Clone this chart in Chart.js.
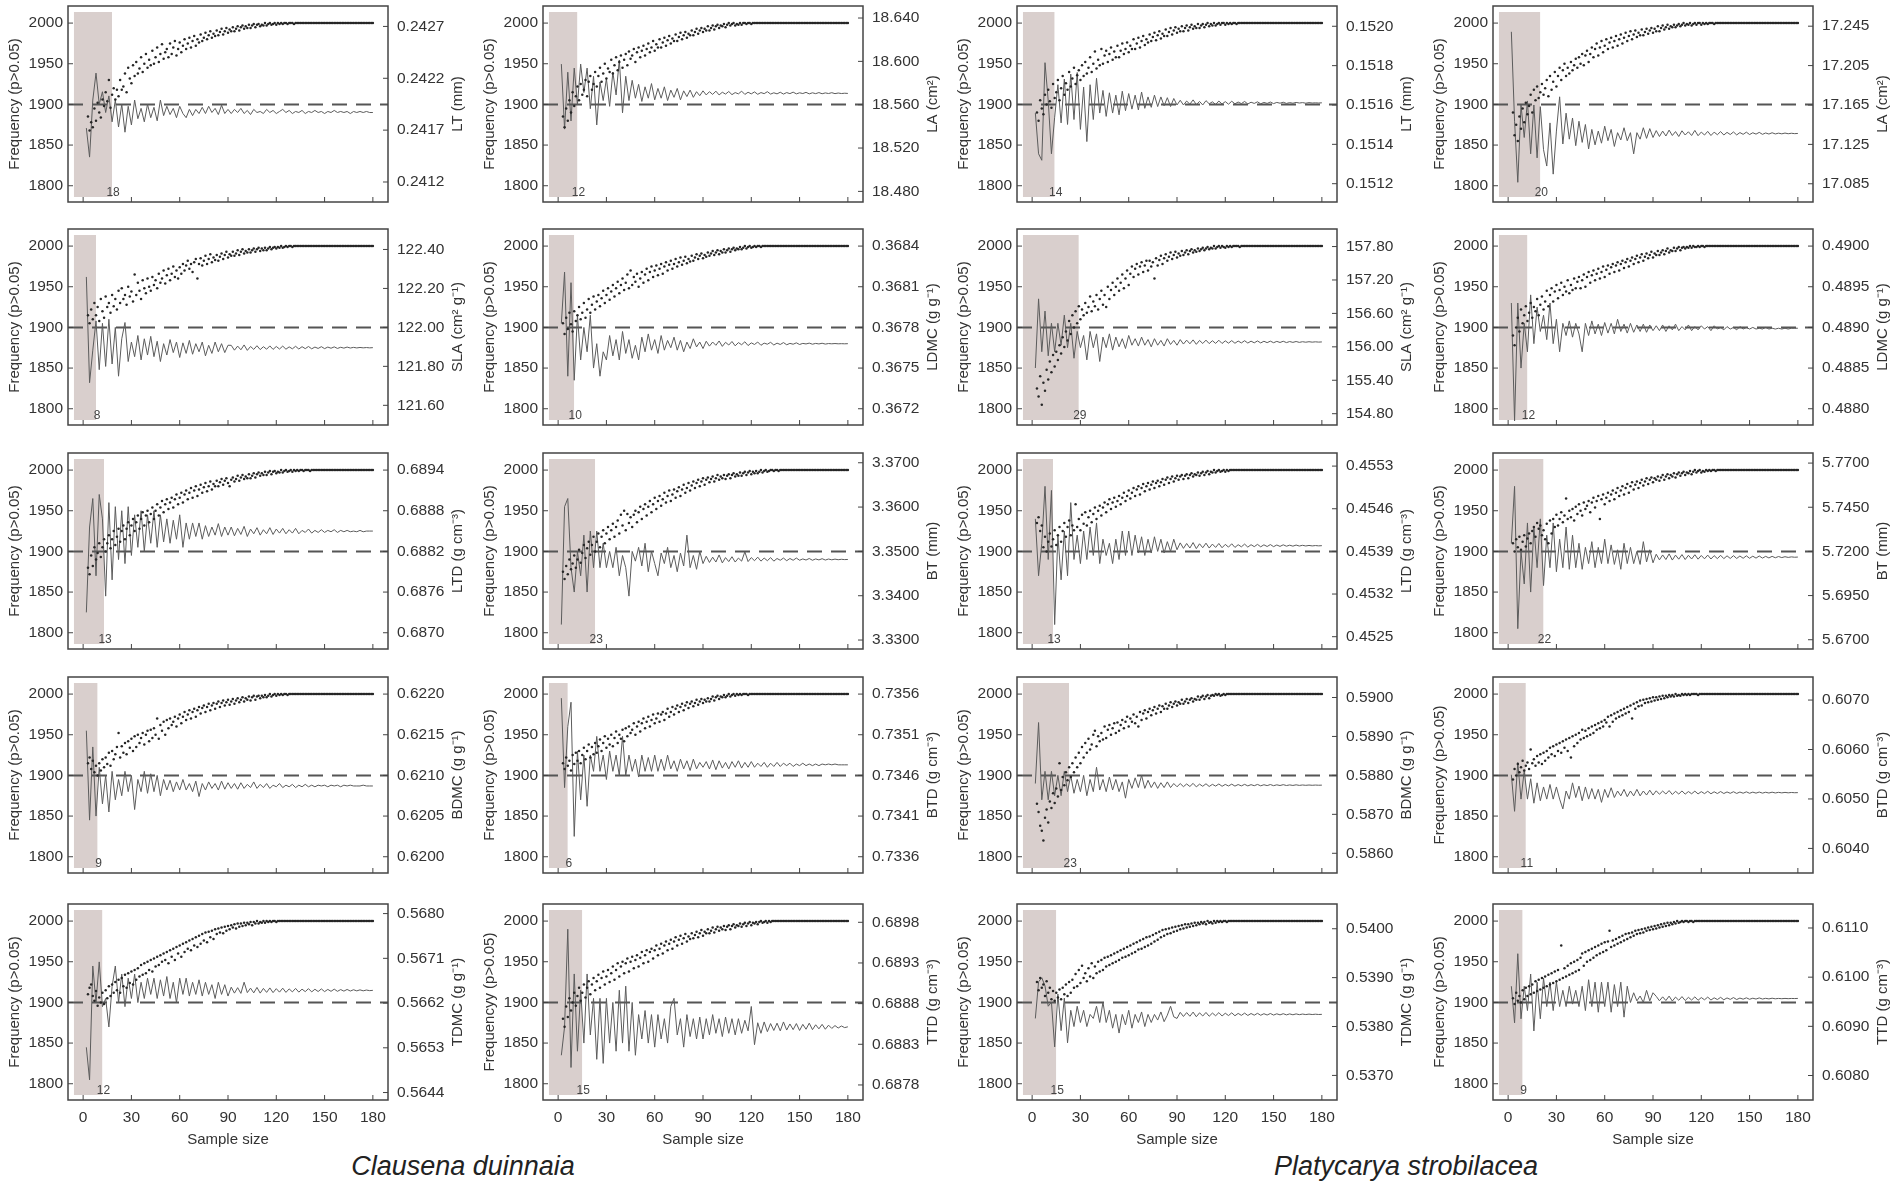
<!DOCTYPE html>
<html>
<head>
<meta charset="utf-8">
<script src="https://cdn.jsdelivr.net/npm/chart.js@4.4.1/dist/chart.umd.min.js"></script>
<style>
  body { margin: 0; background: #fff; width: 1901px; height: 1192px; position: relative; overflow: hidden; }
  canvas { position: absolute; }
  .species { position: absolute; top: 1151px; line-height: 32px; font: italic 27px "Liberation Sans", Arial, sans-serif; color: #222; transform: translateX(-50%); white-space: nowrap; }
</style>
</head>
<body>
<div class="species" style="left:463px">Clausena duinnaia</div>
<div class="species" style="left:1406px">Platycarya strobilacea</div>
<script>
// sample sizes (x values)
const lineSizes = [2,4,6,8,10,12,14,16,18,20,22,24,26,28,30,32,34,36,38,40,42,44,46,48,50,52,54,56,58,60,62,64,66,68,70,72,74,76,78,80,82,84,86,88,90,92,94,96,98,100,102,104,106,108,110,112,114,116,118,120,122,124,126,128,130,132,134,136,138,140,142,144,146,148,150,152,154,156,158,160,162,164,166,168,170,172,174,176,178,180];
const dotSizes = [3,4,5,6,7,8,9,10,11,12,13,14,15,16,17,18,19,20,21,22,23,24,25,26,27,28,29,30,31,32,33,34,35,36,37,38,39,40,41,42,43,44,45,46,47,48,49,50,51,52,53,54,55,56,57,58,59,60,61,62,63,64,65,66,67,68,69,70,71,72,73,74,75,76,77,78,79,80,81,82,83,84,85,86,87,88,89,90,91,92,93,94,95,96,97,98,99,100,101,102,103,104,105,106,107,108,109,110,111,112,113,114,115,116,117,118,119,120,121,122,123,124,125,126,127,128,129,130,131,132,133,134,135,136,137,138,139,140,141,142,143,144,145,146,147,148,149,150,151,152,153,154,155,156,157,158,159,160,161,162,163,164,165,166,167,168,169,170,171,172,173,174,175,176,177,178,179,180];

const xTickLabels = [0, 30, 60, 90, 120, 150, 180];
const freqTickLabels = [1800, 1850, 1900, 1950, 2000];

// panel order: row by row, Clausena (2 columns) then Platycarya (2 columns)
const traitTitles = [
  'LT (mm)', 'LA (cm²)', 'LT (mm)', 'LA (cm²)',
  'SLA (cm² g⁻¹)', 'LDMC (g g⁻¹)', 'SLA (cm² g⁻¹)', 'LDMC (g g⁻¹)',
  'LTD (g cm⁻³)', 'BT (mm)', 'LTD (g cm⁻³)', 'BT (mm)',
  'BDMC (g g⁻¹)', 'BTD (g cm⁻³)', 'BDMC (g g⁻¹)', 'BTD (g cm⁻³)',
  'TDMC (g g⁻¹)', 'TTD (g cm⁻³)', 'TDMC (g g⁻¹)', 'TTD (g cm⁻³)'
];
const freqTitles = traitTitles.map((t, i) => (i === 15 || i === 17) ? 'Frequencyy (p>0.05)' : 'Frequency (p>0.05)');
const cutoffs = [18, 12, 14, 20, 8, 10, 29, 12, 13, 23, 13, 22, 9, 6, 23, 11, 12, 15, 15, 9];

const rightTicks = [
  ['0.2412','0.2417','0.2422','0.2427'], ['18.480','18.520','18.560','18.600','18.640'],
  ['0.1512','0.1514','0.1516','0.1518','0.1520'], ['17.085','17.125','17.165','17.205','17.245'],
  ['121.60','121.80','122.00','122.20','122.40'], ['0.3672','0.3675','0.3678','0.3681','0.3684'],
  ['154.80','155.40','156.00','156.60','157.20','157.80'], ['0.4880','0.4885','0.4890','0.4895','0.4900'],
  ['0.6870','0.6876','0.6882','0.6888','0.6894'], ['3.3300','3.3400','3.3500','3.3600','3.3700'],
  ['0.4525','0.4532','0.4539','0.4546','0.4553'], ['5.6700','5.6950','5.7200','5.7450','5.7700'],
  ['0.6200','0.6205','0.6210','0.6215','0.6220'], ['0.7336','0.7341','0.7346','0.7351','0.7356'],
  ['0.5860','0.5870','0.5880','0.5890','0.5900'], ['0.6040','0.6050','0.6060','0.6070'],
  ['0.5644','0.5653','0.5662','0.5671','0.5680'], ['0.6878','0.6883','0.6888','0.6893','0.6898'],
  ['0.5370','0.5380','0.5390','0.5400'], ['0.6080','0.6090','0.6100','0.6110']
];
const rightRange = [
  [0.241007, 0.242897], [18.4702, 18.6511], [0.151107, 0.152103], [17.0665, 17.2655],
  [121.499, 122.505], [0.36708, 0.368526], [154.597, 158.115], [0.4878, 0.49021],
  [0.68676, 0.689652], [3.32798, 3.37220], [0.452298, 0.455515], [5.66475, 5.77571],
  [0.6198, 0.62221], [0.7334, 0.73581], [0.585494, 0.590526], [0.603503, 0.607466],
  [0.56425, 0.568193], [0.687615, 0.690025], [0.536497, 0.540506], [0.607502, 0.611488]
];

// ---- frequency of p>0.05 (dots), sample size 3..180 ----
const freq_cLT = [1885,1868,1878,1872,1895,1880,1902,1890,1884,1906,
1898,1915,1904,1930,1896,1912,1920,1906,1918,1910,
1930,1918,1922,1938,1915,1945,1932,1926,1948,1935,
1952,1938,1944,1958,1940,1950,1962,1945,1955,1948,
1966,1950,1958,1970,1952,1962,1974,1956,1964,1968,
1958,1975,1962,1970,1978,1960,1968,1976,1964,1972,
1980,1968,1975,1982,1970,1978,1984,1972,1980,1976,
1986,1978,1982,1988,1980,1985,1990,1982,1987,1984,
1991,1985,1989,1993,1986,1990,1994,1988,1992,1990,
1995,1990,1993,1996,1991,1995,1997,1993,1996,1994,
1998,1994,1997,1999,1995,1998,1999,1996,1998,1997,
2000,1997,1999,2000,1998,1999,2000,1998,2000,1999,
2000,1999,2000,2000,1999,2000,2000,2000,1999,2000,
2000,2000,2000,2000,2000,2000,2000,2000,2000,2000,2000,2000,2000,2000,2000,2000,2000,2000,2000,2000,
2000,2000,2000,2000,2000,2000,2000,2000,2000,2000,2000,2000,2000,2000,2000,2000,2000,2000,2000,2000,
2000,2000,2000,2000,2000,2000,2000,2000];
const freq_cLA = [1885,1872,1895,1880,1905,1890,1915,1898,1910,1922,
1905,1925,1912,1918,1930,1910,1928,1935,1918,1925,
1940,1922,1935,1945,1928,1938,1950,1932,1944,1940,
1955,1938,1948,1958,1942,1952,1960,1945,1955,1962,
1948,1965,1956,1960,1968,1952,1964,1970,1958,1966,
1972,1960,1968,1975,1964,1970,1978,1966,1974,1970,
1980,1970,1976,1982,1972,1979,1984,1975,1981,1978,
1986,1978,1983,1988,1980,1985,1989,1982,1987,1985,
1991,1985,1989,1993,1987,1991,1994,1989,1993,1991,
1996,1991,1994,1997,1992,1996,1998,1994,1997,1996,
1999,1995,1998,2000,1997,1999,2000,1997,1999,1998,
2000,1998,2000,2000,1999,2000,2000,1999,2000,2000,
2000,2000,2000,2000,2000,2000,2000,2000,2000,2000,2000,2000,2000,2000,2000,2000,2000,2000,2000,2000,
2000,2000,2000,2000,2000,2000,2000,2000,2000,2000,2000,2000,2000,2000,2000,2000,2000,2000,2000,2000,
2000,2000,2000,2000,2000,2000,2000,2000,2000,2000,2000,2000,2000,2000,2000,2000,2000,2000];
const freq_pLT = [1890,1880,1905,1895,1888,1912,1900,1918,1904,1896,
1925,1908,1915,1930,1905,1920,1935,1912,1926,1918,
1940,1922,1932,1945,1925,1936,1942,1930,1948,1935,
1952,1938,1945,1958,1940,1950,1965,1944,1955,1948,
1968,1950,1960,1966,1952,1962,1970,1955,1965,1958,
1972,1958,1966,1975,1962,1968,1976,1964,1972,1968,
1980,1968,1975,1982,1970,1978,1984,1973,1980,1976,
1986,1978,1983,1988,1979,1985,1990,1981,1987,1984,
1992,1984,1989,1994,1986,1991,1995,1988,1993,1990,
1996,1990,1994,1997,1991,1995,1998,1993,1996,1994,
1999,1994,1997,1999,1995,1998,2000,1996,1999,1997,
2000,1997,1999,2000,1998,2000,2000,1998,2000,1999,
2000,1999,2000,2000,1999,2000,2000,2000,2000,2000,
2000,2000,2000,2000,2000,2000,2000,2000,2000,2000,2000,2000,2000,2000,2000,2000,2000,2000,2000,2000,
2000,2000,2000,2000,2000,2000,2000,2000,2000,2000,2000,2000,2000,2000,2000,2000,2000,2000,2000,2000,
2000,2000,2000,2000,2000,2000,2000,2000];
const freq_pLA = [1890,1862,1875,1855,1885,1870,1895,1878,1902,1888,
1898,1912,1890,1918,1905,1922,1908,1915,1925,1912,
1920,1930,1910,1935,1918,1928,1940,1922,1935,1945,
1930,1942,1950,1935,1945,1938,1952,1942,1948,1956,
1945,1958,1950,1962,1948,1960,1966,1952,1962,1970,
1958,1968,1975,1960,1970,1978,1964,1972,1980,1968,
1976,1982,1970,1978,1984,1972,1980,1986,1975,1982,
1988,1978,1984,1990,1980,1986,1991,1983,1988,1985,
1992,1985,1989,1993,1987,1991,1994,1988,1993,1990,
1996,1990,1994,1997,1992,1995,1998,1993,1996,1995,
1998,1995,1997,1999,1996,1998,2000,1997,1999,1998,
2000,1997,1999,2000,1998,2000,2000,1998,2000,1999,
2000,1999,2000,2000,2000,1999,2000,2000,2000,2000,
2000,2000,2000,2000,2000,2000,2000,2000,2000,2000,2000,2000,2000,2000,2000,2000,2000,2000,2000,2000,
2000,2000,2000,2000,2000,2000,2000,2000,2000,2000,2000,2000,2000,2000,2000,2000,2000,2000,2000,2000,
2000,2000,2000,2000,2000,2000,2000,2000];
const freq_cSLA = [1915,1905,1922,1910,1930,1915,1925,1908,1935,1920,
1912,1938,1925,1930,1918,1940,1926,1935,1922,1945,
1930,1948,1935,1940,1928,1950,1938,1944,1932,1965,
1940,1955,1945,1935,1958,1948,1942,1960,1950,1945,
1962,1952,1958,1948,1966,1955,1960,1970,1954,1964,
1972,1958,1966,1975,1962,1970,1960,1974,1966,1978,
1970,1976,1982,1972,1978,1968,1980,1984,1960,1978,
1985,1976,1982,1988,1978,1984,1990,1980,1986,1983,
1989,1982,1987,1991,1984,1989,1993,1986,1990,1988,
1993,1988,1991,1995,1989,1993,1996,1991,1994,1992,
1996,1992,1995,1997,1993,1996,1998,1994,1997,1995,
1998,1995,1997,1999,1996,1998,1999,1997,1999,1998,
2000,1998,1999,2000,1999,2000,2000,1999,2000,2000,
2000,2000,2000,2000,2000,2000,2000,2000,2000,2000,2000,2000,2000,2000,2000,2000,2000,2000,2000,2000,
2000,2000,2000,2000,2000,2000,2000,2000,2000,2000,2000,2000,2000,2000,2000,2000,2000,2000,2000,2000,
2000,2000,2000,2000,2000,2000,2000,2000];
const freq_cLDMC = [1905,1892,1912,1898,1918,1904,1895,1920,1908,1915,
1925,1910,1918,1930,1912,1922,1935,1918,1928,1938,
1922,1932,1940,1926,1936,1945,1930,1940,1948,1934,
1944,1952,1938,1948,1956,1942,1952,1960,1946,1955,
1965,1948,1970,1952,1962,1956,1966,1950,1960,1968,
1955,1965,1972,1958,1968,1975,1962,1970,1976,1964,
1972,1978,1966,1975,1980,1970,1977,1982,1972,1978,
1984,1975,1980,1986,1977,1982,1987,1979,1984,1981,
1988,1982,1986,1990,1984,1988,1991,1985,1989,1987,
1992,1988,1991,1994,1989,1992,1995,1990,1994,1992,
1996,1992,1995,1997,1993,1996,1998,1995,1997,1996,
1999,1996,1998,2000,1997,1999,2000,1998,1999,2000,
1999,2000,2000,1999,2000,2000,2000,2000,2000,2000,
2000,2000,2000,2000,2000,2000,2000,2000,2000,2000,2000,2000,2000,2000,2000,2000,2000,2000,2000,2000,
2000,2000,2000,2000,2000,2000,2000,2000,2000,2000,2000,2000,2000,2000,2000,2000,2000,2000,2000,2000,
2000,2000,2000,2000,2000,2000,2000,2000];
const freq_pSLA = [1825,1815,1840,1805,1832,1822,1848,1836,1858,1845,
1866,1852,1870,1860,1878,1868,1888,1876,1895,1884,
1908,1892,1915,1900,1920,1905,1926,1910,1922,1915,
1930,1918,1925,1938,1920,1932,1926,1940,1922,1935,
1945,1928,1940,1925,1950,1935,1946,1955,1940,1950,
1960,1945,1955,1965,1948,1960,1970,1952,1966,1975,
1962,1972,1978,1965,1975,1980,1968,1976,1982,1970,
1982,1975,1980,1960,1985,1976,1983,1988,1978,1985,
1990,1982,1987,1992,1984,1989,1993,1986,1991,1988,
1994,1989,1992,1995,1990,1994,1996,1992,1995,1993,
1997,1994,1996,1998,1995,1997,1999,1996,1998,1997,
2000,1997,1999,2000,1998,2000,1999,1998,2000,1999,
2000,1999,2000,2000,2000,2000,1999,2000,2000,2000,
2000,2000,2000,2000,2000,2000,2000,2000,2000,2000,2000,2000,2000,2000,2000,2000,2000,2000,2000,2000,
2000,2000,2000,2000,2000,2000,2000,2000,2000,2000,2000,2000,2000,2000,2000,2000,2000,2000,2000,2000,
2000,2000,2000,2000,2000,2000,2000,2000];
const freq_pLDMC = [1890,1878,1900,1912,1895,1922,1905,1915,1926,1908,
1918,1930,1912,1925,1920,1935,1915,1928,1938,1922,
1932,1945,1926,1940,1948,1932,1944,1952,1936,1946,
1955,1940,1950,1944,1958,1942,1952,1946,1960,1948,
1956,1962,1948,1958,1965,1950,1962,1968,1955,1964,
1970,1958,1966,1972,1960,1968,1975,1962,1971,1976,
1966,1974,1978,1968,1976,1980,1970,1978,1982,1973,
1980,1984,1975,1982,1986,1978,1984,1988,1980,1986,
1990,1982,1987,1991,1985,1989,1993,1986,1991,1989,
1994,1989,1992,1995,1990,1994,1997,1992,1995,1994,
1998,1994,1997,1999,1995,1998,1999,1997,1999,1998,
2000,1998,2000,1999,1999,2000,1999,2000,2000,1999,
2000,2000,2000,2000,2000,2000,2000,2000,2000,2000,2000,2000,2000,2000,2000,2000,2000,2000,2000,2000,
2000,2000,2000,2000,2000,2000,2000,2000,2000,2000,2000,2000,2000,2000,2000,2000,2000,2000,2000,2000,
2000,2000,2000,2000,2000,2000,2000,2000,2000,2000,2000,2000,2000,2000,2000,2000,2000,2000];
const freq_cLTD = [1880,1872,1895,1882,1905,1890,1898,1910,1893,1905,
1915,1900,1910,1920,1904,1915,1925,1908,1918,1928,
1912,1925,1932,1915,1928,1936,1920,1932,1940,1925,
1936,1944,1928,1940,1948,1932,1944,1950,1936,1946,
1954,1940,1950,1958,1944,1954,1962,1948,1958,1964,
1952,1960,1966,1954,1964,1970,1958,1966,1972,1960,
1970,1975,1964,1972,1978,1966,1975,1980,1968,1976,
1982,1972,1979,1984,1974,1980,1986,1976,1983,1980,
1987,1980,1985,1989,1982,1987,1990,1984,1980,1988,
1991,1986,1989,1993,1987,1991,1994,1989,1992,1990,
1995,1990,1993,1996,1991,1995,1997,1993,1996,1994,
1998,1994,1997,1999,1995,1998,1999,1996,1998,1997,
2000,1997,1999,2000,1998,1999,2000,1998,2000,1999,
2000,1999,2000,2000,1999,2000,2000,2000,1999,2000,
2000,2000,2000,2000,2000,2000,2000,2000,2000,2000,2000,2000,2000,2000,2000,2000,2000,2000,2000,2000,
2000,2000,2000,2000,2000,2000,2000,2000,2000,2000,2000,2000,2000,2000,2000,2000,2000,2000];
const freq_cBT = [1875,1866,1882,1872,1890,1878,1885,1895,1880,1890,
1902,1886,1898,1908,1892,1904,1912,1896,1908,1918,
1900,1912,1922,1905,1918,1926,1910,1922,1930,1915,
1926,1934,1918,1930,1938,1922,1945,1932,1950,1926,
1946,1935,1942,1930,1945,1950,1936,1948,1955,1940,
1952,1958,1944,1955,1962,1948,1958,1966,1952,1962,
1968,1956,1964,1972,1960,1968,1975,1962,1970,1976,
1966,1974,1979,1968,1976,1982,1972,1978,1984,1975,
1981,1986,1978,1984,1988,1980,1986,1990,1982,1988,
1991,1985,1989,1992,1986,1990,1994,1988,1992,1990,
1994,1989,1993,1995,1990,1994,1996,1992,1995,1993,
1997,1993,1996,1998,1994,1997,1999,1995,1998,1996,
1999,1996,1998,2000,1997,1999,2000,1998,1999,2000,
2000,1999,2000,2000,1999,2000,2000,2000,2000,2000,
2000,2000,2000,2000,2000,2000,2000,2000,2000,2000,2000,2000,2000,2000,2000,2000,2000,2000,2000,2000,
2000,2000,2000,2000,2000,2000,2000,2000,2000,2000,2000,2000,2000,2000,2000,2000,2000,2000];
const freq_pLTD = [1935,1942,1925,1932,1905,1918,1900,1912,1922,1906,
1915,1926,1908,1920,1930,1912,1925,1935,1918,1930,
1938,1920,1932,1926,1958,1930,1940,1926,1945,1934,
1948,1932,1942,1950,1936,1946,1954,1940,1950,1956,
1944,1954,1960,1948,1958,1964,1952,1960,1966,1955,
1962,1968,1958,1966,1972,1962,1968,1975,1965,1972,
1978,1968,1976,1980,1970,1978,1983,1974,1980,1984,
1976,1982,1986,1978,1984,1987,1980,1985,1989,1982,
1988,1991,1984,1989,1992,1986,1990,1993,1988,1992,
1994,1989,1993,1995,1990,1994,1996,1992,1995,1994,
1997,1993,1996,1998,1994,1997,1999,1995,1998,1997,
2000,1997,1999,2000,1998,1999,2000,1998,2000,1999,
2000,2000,2000,2000,2000,2000,2000,2000,2000,2000,2000,2000,2000,2000,2000,2000,2000,2000,2000,2000,
2000,2000,2000,2000,2000,2000,2000,2000,2000,2000,2000,2000,2000,2000,2000,2000,2000,2000,2000,2000,
2000,2000,2000,2000,2000,2000,2000,2000,2000,2000,2000,2000,2000,2000,2000,2000,2000,2000];
const freq_pBT = [1910,1900,1915,1905,1918,1902,1912,1920,1906,1916,
1922,1910,1925,1930,1918,1935,1928,1932,1920,1926,
1915,1934,1910,1938,1922,1940,1930,1945,1932,1940,
1948,1936,1944,1965,1940,1950,1942,1952,1938,1955,
1946,1958,1950,1944,1960,1952,1956,1962,1948,1960,
1966,1954,1962,1968,1940,1964,1970,1958,1966,1972,
1962,1970,1975,1964,1972,1978,1968,1975,1980,1970,
1978,1983,1972,1980,1985,1976,1982,1986,1978,1984,
1988,1981,1986,1990,1983,1988,1991,1985,1990,1988,
1992,1987,1991,1994,1988,1992,1995,1990,1994,1992,
1996,1991,1995,1997,1993,1996,1998,1994,1997,1996,
1999,1995,1998,2000,1997,1999,2000,1997,1999,1998,
2000,1999,2000,1999,2000,2000,1999,2000,2000,2000,
2000,2000,2000,2000,2000,2000,2000,2000,2000,2000,2000,2000,2000,2000,2000,2000,2000,2000,2000,2000,
2000,2000,2000,2000,2000,2000,2000,2000,2000,2000,2000,2000,2000,2000,2000,2000,2000,2000,2000,2000,
2000,2000,2000,2000,2000,2000,2000,2000];
const freq_cBDMC = [1915,1922,1908,1918,1904,1912,1900,1915,1906,1920,
1910,1922,1914,1928,1912,1930,1920,1926,1935,1952,
1922,1936,1928,1940,1926,1942,1934,1945,1930,1948,
1935,1950,1940,1946,1952,1938,1950,1955,1942,1956,
1946,1958,1950,1970,1945,1962,1955,1966,1950,1968,
1958,1970,1962,1966,1972,1960,1970,1975,1964,1972,
1978,1968,1975,1980,1970,1978,1982,1972,1980,1984,
1976,1983,1986,1978,1984,1988,1980,1986,1989,1982,
1988,1991,1984,1989,1992,1986,1990,1993,1987,1991,
1994,1988,1992,1995,1990,1993,1996,1991,1995,1993,
1997,1992,1996,1998,1993,1997,1998,1995,1998,1996,
1999,1996,1998,2000,1997,1999,2000,1998,2000,1999,
2000,1999,2000,2000,1999,2000,2000,2000,2000,2000,
2000,2000,2000,2000,2000,2000,2000,2000,2000,2000,2000,2000,2000,2000,2000,2000,2000,2000,2000,2000,
2000,2000,2000,2000,2000,2000,2000,2000,2000,2000,2000,2000,2000,2000,2000,2000,2000,2000,2000,2000,
2000,2000,2000,2000,2000,2000,2000,2000];
const freq_cBTD = [1915,1908,1922,1912,1918,1906,1925,1914,1928,1918,
1930,1915,1925,1934,1920,1930,1938,1922,1935,1926,
1940,1928,1936,1944,1930,1940,1948,1934,1945,1938,
1950,1936,1946,1954,1940,1950,1945,1956,1942,1958,
1948,1960,1952,1956,1964,1950,1960,1966,1954,1964,
1970,1958,1966,1972,1960,1968,1975,1964,1970,1976,
1966,1975,1978,1968,1976,1982,1972,1978,1984,1975,
1982,1986,1978,1984,1988,1980,1986,1990,1983,1988,
1991,1985,1989,1993,1987,1991,1994,1989,1993,1991,
1995,1991,1994,1997,1992,1996,1998,1994,1997,1996,
1999,1996,1998,2000,1997,1999,2000,1998,2000,1999,
2000,1999,2000,2000,2000,1999,2000,2000,2000,2000,
2000,2000,2000,2000,2000,2000,2000,2000,2000,2000,2000,2000,2000,2000,2000,2000,2000,2000,2000,2000,
2000,2000,2000,2000,2000,2000,2000,2000,2000,2000,2000,2000,2000,2000,2000,2000,2000,2000,2000,2000,
2000,2000,2000,2000,2000,2000,2000,2000,2000,2000,2000,2000,2000,2000,2000,2000,2000,2000];
const freq_pBDMC = [1865,1855,1838,1832,1820,1848,1858,1842,1868,1860,
1878,1866,1884,1874,1915,1882,1898,1888,1904,1894,
1910,1898,1915,1904,1922,1910,1928,1915,1935,1922,
1940,1928,1945,1932,1938,1950,1955,1936,1948,1942,
1952,1944,1960,1946,1956,1962,1950,1958,1964,1952,
1965,1955,1962,1968,1958,1966,1972,1960,1970,1966,
1975,1964,1972,1960,1978,1968,1976,1980,1970,1978,
1982,1974,1980,1984,1976,1982,1986,1978,1985,1982,
1988,1982,1986,1990,1984,1988,1991,1986,1990,1988,
1993,1988,1991,1994,1989,1993,1995,1991,1994,1993,
1997,1993,1996,1998,1994,1997,1999,1995,1998,1999,
1998,2000,1999,2000,1998,1999,2000,1999,2000,2000,
2000,2000,2000,2000,2000,2000,2000,2000,2000,2000,2000,2000,2000,2000,2000,2000,2000,2000,2000,2000,
2000,2000,2000,2000,2000,2000,2000,2000,2000,2000,2000,2000,2000,2000,2000,2000,2000,2000,2000,2000,
2000,2000,2000,2000,2000,2000,2000,2000,2000,2000,2000,2000,2000,2000,2000,2000,2000,2000];
const freq_pBTD = [1895,1908,1900,1914,1904,1910,1918,1906,1912,1916,
1908,1932,1915,1920,1912,1924,1916,1926,1914,1928,
1918,1930,1922,1934,1926,1936,1924,1938,1930,1940,
1928,1942,1934,1944,1930,1946,1922,1948,1936,1950,
1940,1952,1944,1956,1946,1955,1948,1958,1950,1960,
1952,1962,1956,1964,1958,1966,1960,1968,1965,1972,
1960,1974,1966,1976,1970,1978,1972,1980,1974,1982,
1976,1984,1978,1986,1970,1988,1982,1990,1985,1992,
1986,1993,1989,1994,1990,1995,1991,1996,1992,1996,
1993,1997,1994,1998,1995,1998,1996,1999,1997,1999,
1997,2000,1998,1999,1998,2000,1999,2000,1999,2000,
1999,2000,2000,2000,2000,1999,2000,2000,2000,2000,
2000,2000,2000,2000,2000,2000,2000,2000,2000,2000,2000,2000,2000,2000,2000,2000,2000,2000,2000,2000,
2000,2000,2000,2000,2000,2000,2000,2000,2000,2000,2000,2000,2000,2000,2000,2000,2000,2000,2000,2000,
2000,2000,2000,2000,2000,2000,2000,2000,2000,2000,2000,2000,2000,2000,2000,2000,2000,2000];
const freq_cTDMC = [1910,1918,1922,1908,1902,1914,1896,1906,1900,1912,
1898,1915,1905,1920,1908,1922,1912,1925,1915,1928,
1912,1930,1920,1934,1918,1936,1924,1938,1922,1940,
1928,1942,1932,1946,1934,1948,1936,1950,1940,1952,
1938,1954,1944,1956,1946,1958,1950,1960,1952,1962,
1948,1964,1956,1966,1952,1968,1960,1970,1956,1972,
1962,1974,1966,1976,1964,1978,1970,1980,1968,1982,
1972,1984,1976,1986,1974,1987,1980,1988,1978,1990,
1984,1991,1986,1992,1985,1993,1988,1994,1990,1995,
1992,1996,1991,1997,1993,1997,1994,1998,1995,1998,
1996,1999,1995,1999,1997,2000,1997,1999,1998,2000,
1998,2000,1999,2000,1999,2000,2000,1999,2000,2000,
2000,2000,2000,2000,2000,2000,2000,2000,2000,2000,2000,2000,2000,2000,2000,2000,2000,2000,2000,2000,
2000,2000,2000,2000,2000,2000,2000,2000,2000,2000,2000,2000,2000,2000,2000,2000,2000,2000,2000,2000,
2000,2000,2000,2000,2000,2000,2000,2000,2000,2000,2000,2000,2000,2000,2000,2000,2000,2000];
const freq_cTTD = [1880,1870,1895,1882,1905,1890,1900,1912,1896,1908,
1918,1902,1912,1922,1906,1918,1926,1910,1922,1930,
1915,1926,1934,1918,1930,1938,1922,1932,1940,1925,
1936,1944,1928,1940,1948,1932,1944,1950,1936,1948,
1954,1938,1950,1956,1942,1952,1958,1944,1955,1962,
1948,1958,1964,1950,1962,1966,1954,1964,1970,1958,
1966,1972,1960,1970,1975,1964,1972,1977,1966,1975,
1980,1970,1977,1982,1972,1979,1984,1975,1981,1978,
1985,1979,1983,1987,1980,1985,1989,1982,1987,1985,
1990,1985,1988,1992,1986,1990,1993,1988,1992,1990,
1994,1989,1993,1995,1990,1994,1996,1992,1995,1994,
1997,1993,1996,1998,1994,1997,1999,1995,1998,1997,
1999,1996,1999,2000,1998,1999,2000,1998,2000,1999,
2000,2000,2000,2000,2000,2000,2000,2000,2000,2000,2000,2000,2000,2000,2000,2000,2000,2000,2000,2000,
2000,2000,2000,2000,2000,2000,2000,2000,2000,2000,2000,2000,2000,2000,2000,2000,2000,2000,2000,2000,
2000,2000,2000,2000,2000,2000,2000,2000];
const freq_pTDMC = [1925,1915,1930,1918,1922,1908,1926,1912,1918,1904,
1914,1902,1912,1906,1916,1904,1918,1910,1922,1908,
1925,1912,1928,1918,1935,1920,1940,1924,1945,1930,
1936,1926,1942,1932,1948,1930,1944,1936,1950,1938,
1952,1940,1955,1944,1956,1946,1958,1948,1960,1950,
1962,1952,1964,1955,1966,1956,1968,1958,1970,1960,
1972,1962,1974,1965,1976,1966,1978,1968,1980,1970,
1981,1972,1983,1975,1985,1977,1987,1980,1989,1982,
1990,1984,1991,1985,1992,1987,1993,1988,1994,1990,
1995,1991,1996,1992,1996,1993,1997,1994,1998,1995,
1998,1996,1999,1997,1999,1996,2000,1998,1999,1997,
2000,1998,2000,1999,2000,1999,2000,2000,1999,2000,
2000,2000,2000,2000,2000,2000,2000,2000,2000,2000,2000,2000,2000,2000,2000,2000,2000,2000,2000,2000,
2000,2000,2000,2000,2000,2000,2000,2000,2000,2000,2000,2000,2000,2000,2000,2000,2000,2000,2000,2000,
2000,2000,2000,2000,2000,2000,2000,2000,2000,2000,2000,2000,2000,2000,2000,2000,2000,2000];
const freq_pTTD = [1905,1898,1912,1902,1908,1900,1915,1904,1918,1908,
1920,1910,1922,1912,1926,1914,1928,1916,1930,1918,
1932,1920,1934,1922,1936,1924,1938,1926,1940,1928,
1970,1930,1942,1932,1945,1934,1948,1936,1950,1938,
1952,1940,1955,1960,1945,1962,1950,1964,1952,1966,
1955,1968,1958,1970,1960,1972,1962,1974,1964,1975,
1988,1968,1976,1970,1978,1972,1980,1974,1982,1976,
1984,1978,1985,1980,1986,1982,1988,1984,1989,1985,
1990,1986,1991,1988,1992,1989,1993,1990,1994,1991,
1995,1992,1996,1993,1997,1994,1998,1995,1998,1996,
1999,1997,2000,1998,1999,2000,1999,2000,2000,1999,
2000,2000,1999,2000,2000,2000,2000,2000,2000,2000,
2000,2000,2000,2000,2000,2000,2000,2000,2000,2000,2000,2000,2000,2000,2000,2000,2000,2000,2000,2000,
2000,2000,2000,2000,2000,2000,2000,2000,2000,2000,2000,2000,2000,2000,2000,2000,2000,2000,2000,2000,
2000,2000,2000,2000,2000,2000,2000,2000,2000,2000,2000,2000,2000,2000,2000,2000,2000,2000];

// ---- trait mean (line), sample size 2..180 step 2, in trait units ----
const mean_cLT = [0.24172,0.24144,0.24199,0.24225,0.24195,0.24207,0.24187,0.24203,0.24178,0.24199,
0.24173,0.24195,0.24168,0.24193,0.24175,0.24199,0.24181,0.24191,0.24178,0.24195,
0.24182,0.24192,0.24179,0.24199,0.24184,0.24193,0.24185,0.24191,0.24182,0.24193,
0.24186,0.24182,0.24190,0.24184,0.24190,0.24186,0.24192,0.24186,0.24193,0.24187,
0.24191,0.24185,0.24194,0.24186,0.24190,
0.24186,0.24190,0.24187,0.24191,0.24186,0.24189,0.24185,0.24190,0.24187,0.24188,
0.24186,0.24190,0.24187,0.24189,0.24186,0.24188,0.24190,0.24187,0.24189,0.24186,
0.24188,0.24187,0.24189,0.24186,0.24188,0.24187,0.24189,0.24187,0.24188,0.24186,
0.24188,0.24187,0.24189,0.24187,0.24188,0.24187,0.24188,0.24186,0.24188,0.24187,
0.24188,0.24187,0.24188,0.24187,0.24187];
const mean_cLA = [18.5975,18.5375,18.5900,18.5450,18.5938,18.5600,18.5975,18.5713,18.5938,18.5563,
18.5863,18.5413,18.5810,18.5638,18.5840,18.5585,18.5900,18.5690,18.6013,18.5525,
18.5863,18.5638,18.5825,18.5660,18.5788,18.5630,18.5765,18.5660,18.5795,18.5645,
18.5750,18.5660,18.5765,18.5638,18.5735,18.5668,18.5750,18.5645,18.5728,18.5675,
18.5735,18.5668,18.5720,18.5683,18.5728,
18.5690,18.5720,18.5695,18.5725,18.5690,18.5715,18.5698,18.5722,18.5693,18.5712,
18.5700,18.5725,18.5695,18.5715,18.5700,18.5718,18.5696,18.5712,18.5702,18.5720,
18.5698,18.5710,18.5700,18.5715,18.5698,18.5712,18.5702,18.5716,18.5700,18.5710,
18.5703,18.5714,18.5700,18.5710,18.5702,18.5712,18.5701,18.5709,18.5703,18.5711,
18.5702,18.5708,18.5703,18.5706,18.5704];
const mean_pLT = [0.151559,0.151352,0.151319,0.151815,0.151621,0.151352,0.151538,0.151703,0.151509,0.151732,
0.151501,0.151757,0.151526,0.151765,0.151476,0.151691,0.151414,0.151703,0.151526,0.151736,
0.151559,0.151674,0.151542,0.151662,0.151559,0.151650,0.151550,0.151670,0.151571,0.151658,
0.151579,0.151650,0.151575,0.151666,0.151583,0.151641,0.151588,0.151650,0.151592,0.151641,
0.151596,0.151637,0.151592,0.151633,0.151600,
0.151624,0.151600,0.151620,0.151604,0.151626,0.151602,0.151618,0.151600,0.151622,0.151606,
0.151616,0.151603,0.151620,0.151605,0.151617,0.151604,0.151619,0.151606,0.151615,0.151607,
0.151618,0.151605,0.151614,0.151608,0.151616,0.151606,0.151613,0.151608,0.151615,0.151607,
0.151613,0.151609,0.151614,0.151608,0.151612,0.151609,0.151613,0.151610,0.151612,0.151609,
0.151612,0.151610,0.151611,0.151610,0.151611];
const mean_pLA = [17.2393,17.1485,17.0865,17.1650,17.1320,17.1691,17.1154,17.1650,17.1113,17.1633,
17.1196,17.1030,17.1468,17.0948,17.1385,17.1733,17.1254,17.1567,17.1303,17.1518,
17.1237,17.1485,17.1270,17.1452,17.1204,17.1402,17.1245,17.1385,17.1262,17.1435,
17.1287,17.1402,17.1229,17.1369,17.1295,17.1419,17.1287,17.1369,17.1154,17.1369,
17.1303,17.1419,17.1311,17.1410,17.1320,
17.1390,17.1330,17.1385,17.1335,17.1395,17.1340,17.1380,17.1330,17.1388,17.1345,
17.1378,17.1340,17.1392,17.1338,17.1375,17.1345,17.1382,17.1340,17.1374,17.1348,
17.1380,17.1345,17.1372,17.1350,17.1376,17.1346,17.1370,17.1352,17.1374,17.1350,
17.1368,17.1354,17.1372,17.1352,17.1366,17.1355,17.1368,17.1356,17.1364,17.1357,
17.1365,17.1358,17.1363,17.1359,17.1361];
const mean_cSLA = [122.2589,121.7161,121.8831,122.0334,121.7829,122.0209,121.7996,122.0418,121.8121,122.0000,
121.7495,121.9416,122.0251,121.8247,121.9249,121.8497,121.9583,121.8330,121.9416,121.8581,
121.9541,121.8497,121.9290,121.8247,121.9165,121.8581,121.9374,121.8706,121.9249,121.8455,
121.9207,121.8664,121.9332,121.8622,121.9165,121.8748,121.9249,121.8539,121.9082,121.8664,
121.9249,121.8748,121.9165,121.8706,121.9082,
121.9080,121.8830,121.9040,121.8850,121.9100,121.8820,121.9020,121.8870,121.9060,121.8860,
121.9010,121.8880,121.9050,121.8870,121.9020,121.8890,121.9040,121.8880,121.9000,121.8900,
121.9030,121.8890,121.9010,121.8910,121.9020,121.8900,121.8990,121.8920,121.9010,121.8910,
121.8990,121.8930,121.9000,121.8920,121.8980,121.8935,121.8990,121.8940,121.8975,121.8945,
121.8970,121.8950,121.8965,121.8950,121.8960];
const mean_cLDMC = [0.367830,0.368208,0.367440,0.368130,0.367410,0.367890,0.367560,0.367800,0.367620,0.367890,
0.367500,0.367680,0.367440,0.367620,0.367560,0.367740,0.367590,0.367710,0.367560,0.367770,
0.367608,0.367710,0.367572,0.367668,0.367560,0.367728,0.367620,0.367752,0.367632,0.367710,
0.367608,0.367740,0.367632,0.367704,0.367650,0.367728,0.367632,0.367704,0.367620,0.367692,
0.367644,0.367716,0.367656,0.367692,0.367644,
0.367698,0.367662,0.367692,0.367668,0.367700,0.367660,0.367690,0.367670,0.367696,0.367664,
0.367688,0.367672,0.367694,0.367666,0.367686,0.367674,0.367692,0.367668,0.367684,0.367676,
0.367690,0.367670,0.367684,0.367674,0.367688,0.367672,0.367682,0.367676,0.367686,0.367674,
0.367682,0.367678,0.367684,0.367676,0.367682,0.367678,0.367683,0.367677,0.367681,0.367679,
0.367681,0.367679,0.367680,0.367679,0.367680];
const mean_pSLA = [155.620,156.861,155.912,156.642,155.839,156.423,155.912,156.423,156.029,156.569,
155.985,156.423,155.795,156.277,155.985,156.204,155.766,156.277,155.985,156.233,
155.737,156.175,155.985,156.233,155.941,156.175,156.000,156.146,155.970,156.204,
156.029,156.146,156.014,156.175,156.029,156.131,156.000,156.146,156.029,156.116,
156.014,156.146,156.043,156.116,156.029,
156.130,156.050,156.120,156.055,156.125,156.045,156.115,156.060,156.120,156.058,
156.110,156.062,156.118,156.060,156.108,156.066,156.112,156.064,156.104,156.070,
156.110,156.068,156.102,156.072,156.106,156.070,156.100,156.075,156.102,156.074,
156.098,156.078,156.100,156.076,156.095,156.080,156.096,156.080,156.092,156.083,
156.092,156.084,156.090,156.085,156.088];
const mean_pLDMC = [0.48930,0.48785,0.48930,0.48850,0.48905,0.48870,0.48940,0.48880,0.48925,0.48895,
0.48915,0.48885,0.48930,0.48880,0.48910,0.48870,0.48905,0.48890,0.48908,0.48888,
0.48905,0.48892,0.48870,0.48905,0.48890,0.48908,0.48892,0.48904,0.48890,0.48906,
0.48893,0.48905,0.48892,0.48910,0.48895,0.48904,0.48893,0.48905,0.48894,0.48903,
0.48895,0.48904,0.48894,0.48903,0.48896,
0.48902,0.48896,0.48903,0.48895,0.48902,0.48897,0.48904,0.48896,0.48901,0.48897,
0.48903,0.48896,0.48901,0.48897,0.48902,0.48898,0.48901,0.48896,0.48902,0.48898,
0.48900,0.48897,0.48901,0.48898,0.48900,0.48897,0.48901,0.48898,0.48900,0.48898,
0.48900,0.48898,0.48899,0.48898,0.48900,0.48898,0.48899,0.48898,0.48899,0.48898,
0.48899,0.48898,0.48899,0.48899,0.48899];
const mean_cLTD = [0.68730,0.68856,0.68898,0.68784,0.68904,0.68868,0.68754,0.68892,0.68778,0.68886,
0.68808,0.68880,0.68802,0.68886,0.68814,0.68874,0.68826,0.68880,0.68820,0.68874,
0.68832,0.68880,0.68826,0.68874,0.68834,0.68868,0.68832,0.68866,0.68838,0.68874,
0.68826,0.68862,0.68838,0.68862,0.68842,0.68862,0.68838,0.68858,0.68842,0.68856,
0.68844,0.68861,0.68842,0.68856,0.68844,
0.68856,0.68843,0.68854,0.68845,0.68857,0.68842,0.68853,0.68846,0.68855,0.68844,
0.68852,0.68846,0.68855,0.68845,0.68853,0.68847,0.68854,0.68846,0.68852,0.68847,
0.68854,0.68846,0.68851,0.68848,0.68853,0.68847,0.68851,0.68848,0.68852,0.68848,
0.68851,0.68849,0.68852,0.68848,0.68851,0.68849,0.68851,0.68849,0.68850,0.68849,
0.68851,0.68849,0.68850,0.68850,0.68850];
const mean_cBT = [3.33349,3.36009,3.36193,3.34633,3.34083,3.35000,3.34450,3.35367,3.34083,3.35459,
3.34633,3.35459,3.34633,3.35184,3.34633,3.35000,3.34633,3.35092,3.34450,3.34908,
3.34633,3.33991,3.35000,3.34780,3.35092,3.34670,3.35184,3.34541,3.35000,3.34725,
3.34450,3.34963,3.34725,3.35092,3.34633,3.34908,3.34541,3.34963,3.34670,3.35367,
3.34633,3.34908,3.34596,3.35000,3.34725,
3.34890,3.34750,3.34870,3.34760,3.34920,3.34740,3.34860,3.34770,3.34880,3.34760,
3.34850,3.34780,3.34990,3.34770,3.34860,3.34790,3.34870,3.34780,3.34850,3.34790,
3.34860,3.34780,3.34840,3.34800,3.34850,3.34790,3.34840,3.34800,3.34850,3.34800,
3.34830,3.34805,3.34840,3.34800,3.34830,3.34808,3.34835,3.34805,3.34828,3.34810,
3.34826,3.34812,3.34822,3.34815,3.34818];
const mean_pLTD = [0.454434,0.453500,0.454033,0.454968,0.453767,0.454901,0.452699,0.454167,0.453433,0.454234,
0.453500,0.454701,0.453767,0.454167,0.453700,0.454234,0.453767,0.454300,0.453833,0.454367,
0.453700,0.454100,0.453833,0.454033,0.453700,0.454100,0.453767,0.454234,0.453833,0.454234,
0.453833,0.454167,0.453873,0.454140,0.453833,0.454100,0.453873,0.454140,0.453900,0.454100,
0.453873,0.454060,0.453900,0.454100,0.453927,
0.454040,0.453950,0.454030,0.453955,0.454045,0.453945,0.454025,0.453960,0.454035,0.453955,
0.454020,0.453965,0.454030,0.453960,0.454015,0.453970,0.454025,0.453965,0.454010,0.453975,
0.454020,0.453970,0.454010,0.453978,0.454015,0.453975,0.454008,0.453980,0.454012,0.453978,
0.454005,0.453982,0.454008,0.453985,0.454002,0.453986,0.454004,0.453988,0.454000,0.453989,
0.453998,0.453990,0.453996,0.453991,0.453994];
const mean_pBT = [5.72460,5.75683,5.67626,5.72000,5.70158,5.73611,5.69698,5.73381,5.71079,5.73842,
5.70066,5.72921,5.71079,5.73611,5.70849,5.72691,5.71079,5.73381,5.70987,5.72921,
5.71079,5.72460,5.70987,5.72230,5.71309,5.72552,5.71079,5.72230,5.71309,5.72691,
5.71309,5.72368,5.71263,5.72092,5.70987,5.72460,5.71309,5.72230,5.71309,5.72000,
5.71263,5.72552,5.71401,5.72092,5.71355,
5.71840,5.71520,5.71800,5.71540,5.71860,5.71510,5.71790,5.71560,5.71820,5.71540,
5.71780,5.71570,5.71810,5.71560,5.71770,5.71580,5.71790,5.71570,5.71760,5.71590,
5.71780,5.71590,5.71750,5.71600,5.71760,5.71600,5.71740,5.71610,5.71750,5.71610,
5.71730,5.71620,5.71740,5.71620,5.71720,5.71630,5.71720,5.71640,5.71710,5.71650,
5.71700,5.71660,5.71690,5.71670,5.71680];
const mean_cBDMC = [0.62155,0.62045,0.62135,0.62050,0.62110,0.62065,0.62100,0.62055,0.62105,0.62070,
0.62095,0.62075,0.62105,0.62080,0.62100,0.62058,0.62095,0.62080,0.62105,0.62078,
0.62102,0.62080,0.62100,0.62075,0.62095,0.62082,0.62094,0.62080,0.62092,0.62082,
0.62095,0.62082,0.62090,0.62080,0.62093,0.62074,0.62090,0.62082,0.62092,0.62084,
0.62090,0.62082,0.62093,0.62083,0.62091,
0.62084,0.62090,0.62083,0.62091,0.62084,0.62089,0.62085,0.62092,0.62084,0.62089,
0.62085,0.62090,0.62084,0.62088,0.62086,0.62090,0.62085,0.62088,0.62086,0.62089,
0.62085,0.62088,0.62086,0.62089,0.62086,0.62088,0.62086,0.62088,0.62087,0.62088,
0.62086,0.62088,0.62087,0.62088,0.62086,0.62088,0.62087,0.62088,0.62087,0.62087,
0.62087,0.62088,0.62087,0.62087,0.62087];
const mean_cBTD = [0.73555,0.73445,0.73520,0.73550,0.73385,0.73490,0.73430,0.73485,0.73422,0.73485,
0.73465,0.73508,0.73465,0.73485,0.73455,0.73490,0.73465,0.73485,0.73460,0.73508,
0.73460,0.73485,0.73465,0.73480,0.73458,0.73485,0.73465,0.73482,0.73465,0.73485,
0.73465,0.73480,0.73466,0.73485,0.73468,0.73478,0.73465,0.73480,0.73468,0.73478,
0.73466,0.73480,0.73468,0.73476,0.73470,
0.73477,0.73468,0.73479,0.73467,0.73478,0.73469,0.73476,0.73468,0.73477,0.73470,
0.73478,0.73469,0.73476,0.73470,0.73477,0.73470,0.73475,0.73471,0.73476,0.73470,
0.73475,0.73471,0.73476,0.73471,0.73475,0.73472,0.73475,0.73471,0.73474,0.73472,
0.73475,0.73472,0.73474,0.73472,0.73474,0.73472,0.73474,0.73473,0.73474,0.73473,
0.73474,0.73473,0.73473,0.73473,0.73473];
const mean_pBDMC = [0.587791,0.589357,0.587374,0.588104,0.587374,0.588104,0.587478,0.588000,0.587478,0.588104,
0.587582,0.588000,0.587541,0.587896,0.587582,0.588000,0.587478,0.587896,0.587582,0.588209,
0.587624,0.587896,0.587582,0.587958,0.587624,0.587896,0.587582,0.587833,0.587415,0.587896,
0.587666,0.587937,0.587687,0.588000,0.587666,0.587875,0.587687,0.587833,0.587666,0.587812,
0.587687,0.587833,0.587687,0.587791,0.587708,
0.587790,0.587710,0.587780,0.587715,0.587795,0.587705,0.587775,0.587720,0.587785,0.587715,
0.587770,0.587725,0.587780,0.587720,0.587768,0.587728,0.587775,0.587725,0.587765,0.587730,
0.587770,0.587730,0.587762,0.587735,0.587768,0.587732,0.587760,0.587738,0.587765,0.587736,
0.587758,0.587740,0.587762,0.587740,0.587756,0.587742,0.587758,0.587743,0.587754,0.587745,
0.587753,0.587746,0.587752,0.587747,0.587750];
const mean_pBTD = [0.605490,0.604750,0.605737,0.604997,0.605572,0.604997,0.605408,0.604914,0.605326,0.604964,
0.605243,0.604997,0.605293,0.604997,0.605243,0.604997,0.604799,0.605161,0.604997,0.605326,
0.605029,0.605260,0.604964,0.605243,0.604997,0.605210,0.604997,0.605194,0.604931,0.605194,
0.605029,0.605227,0.605029,0.605161,0.605062,0.605194,0.605046,0.605161,0.605062,0.605194,
0.605062,0.605161,0.605079,0.605178,0.605079,
0.605165,0.605095,0.605160,0.605100,0.605170,0.605090,0.605155,0.605100,0.605162,0.605098,
0.605150,0.605105,0.605158,0.605102,0.605148,0.605108,0.605155,0.605105,0.605145,0.605110,
0.605150,0.605110,0.605142,0.605114,0.605146,0.605112,0.605140,0.605116,0.605144,0.605115,
0.605138,0.605118,0.605140,0.605118,0.605136,0.605120,0.605137,0.605121,0.605134,0.605123,
0.605133,0.605124,0.605131,0.605126,0.605128];
const mean_cTDMC = [0.565310,0.564656,0.566946,0.566210,0.567028,0.566128,0.566292,0.565719,0.566537,0.566946,
0.566210,0.566783,0.566128,0.566701,0.566292,0.566783,0.566210,0.566619,0.566292,0.566701,
0.566374,0.566701,0.566292,0.566668,0.566341,0.566734,0.566292,0.566619,0.566210,0.566701,
0.566374,0.566701,0.566341,0.566619,0.566374,0.566668,0.566341,0.566619,0.566374,0.566570,
0.566292,0.566619,0.566374,0.566570,0.566341,
0.566520,0.566400,0.566510,0.566395,0.566620,0.566410,0.566500,0.566405,0.566515,0.566400,
0.566495,0.566415,0.566505,0.566410,0.566490,0.566420,0.566500,0.566415,0.566485,0.566425,
0.566495,0.566420,0.566480,0.566430,0.566490,0.566425,0.566478,0.566432,0.566485,0.566430,
0.566475,0.566436,0.566480,0.566436,0.566472,0.566440,0.566474,0.566442,0.566468,0.566445,
0.566466,0.566446,0.566462,0.566450,0.566456];
const mean_cTTD = [0.688165,0.688515,0.689715,0.688015,0.689165,0.688215,0.688965,0.688315,0.689165,0.688415,
0.688865,0.688115,0.688865,0.688065,0.688865,0.688315,0.688815,0.688215,0.688965,0.688315,
0.689015,0.688215,0.688815,0.688165,0.688665,0.688365,0.688715,0.688315,0.688665,0.688265,
0.688665,0.688365,0.688615,0.688315,0.688765,0.688865,0.688415,0.688615,0.688265,0.688665,
0.688395,0.688615,0.688365,0.688635,0.688365,
0.688615,0.688415,0.688665,0.688435,0.688615,0.688395,0.688635,0.688435,0.688615,0.688415,
0.688615,0.688435,0.688595,0.688465,0.688765,0.688295,0.688565,0.688435,0.688575,0.688455,
0.688555,0.688470,0.688560,0.688465,0.688575,0.688475,0.688550,0.688480,0.688555,0.688470,
0.688545,0.688485,0.688560,0.688480,0.688540,0.688490,0.688545,0.688485,0.688535,0.688495,
0.688530,0.688500,0.688525,0.688505,0.688515];
const mean_pTDMC = [0.538165,0.538914,0.538997,0.538831,0.538415,0.538498,0.537583,0.538664,0.537916,0.538581,
0.537666,0.538332,0.537999,0.538415,0.538082,0.538332,0.537999,0.538248,0.538165,0.538415,
0.538082,0.538498,0.538082,0.538332,0.537966,0.538248,0.537866,0.538248,0.538032,0.538332,
0.537966,0.538248,0.538082,0.538298,0.537999,0.538248,0.538082,0.538248,0.538132,0.538298,
0.538099,0.538232,0.538415,0.538198,0.538165,
0.538290,0.538205,0.538285,0.538210,0.538295,0.538200,0.538280,0.538215,0.538288,0.538210,
0.538275,0.538220,0.538284,0.538215,0.538272,0.538224,0.538280,0.538220,0.538268,0.538228,
0.538274,0.538226,0.538266,0.538232,0.538270,0.538230,0.538262,0.538235,0.538266,0.538234,
0.538260,0.538238,0.538262,0.538238,0.538258,0.538240,0.538258,0.538242,0.538255,0.538244,
0.538254,0.538245,0.538252,0.538246,0.538249];
const mean_pTTD = [0.609816,0.609072,0.610477,0.609154,0.609816,0.609320,0.610064,0.608906,0.609899,0.609154,
0.609981,0.609402,0.609899,0.609320,0.609899,0.609402,0.609733,0.609402,0.609816,0.609452,
0.609733,0.609402,0.609816,0.609320,0.609948,0.609402,0.609899,0.609287,0.609899,0.609402,
0.609899,0.609287,0.609849,0.609402,0.609899,0.609187,0.609816,0.609485,0.609683,0.609518,
0.609617,0.609485,0.609733,0.609518,0.609683,
0.609610,0.609520,0.609600,0.609525,0.609615,0.609515,0.609595,0.609530,0.609605,0.609525,
0.609590,0.609535,0.609600,0.609530,0.609585,0.609540,0.609595,0.609535,0.609580,0.609545,
0.609590,0.609540,0.609578,0.609548,0.609585,0.609545,0.609575,0.609552,0.609580,0.609550,
0.609572,0.609555,0.609578,0.609555,0.609570,0.609558,0.609572,0.609560,0.609568,0.609562,
0.609568,0.609563,0.609567,0.609565,0.609568];

const freqSeries = [freq_cLT, freq_cLA, freq_pLT, freq_pLA, freq_cSLA, freq_cLDMC, freq_pSLA, freq_pLDMC,
  freq_cLTD, freq_cBT, freq_pLTD, freq_pBT, freq_cBDMC, freq_cBTD, freq_pBDMC, freq_pBTD,
  freq_cTDMC, freq_cTTD, freq_pTDMC, freq_pTTD];
const meanSeries = [mean_cLT, mean_cLA, mean_pLT, mean_pLA, mean_cSLA, mean_cLDMC, mean_pSLA, mean_pLDMC,
  mean_cLTD, mean_cBT, mean_pLTD, mean_pBT, mean_cBDMC, mean_cBTD, mean_pBDMC, mean_pBTD,
  mean_cTDMC, mean_cTTD, mean_pTDMC, mean_pTTD];

// ---- layout ----
const colLeft = [68, 543, 1017, 1493];
const rowTop = [6, 229, 453, 677, 904];
const FRAME_W = 320, FRAME_H = 196;
const LEFT_W = 68, RIGHT_W = 92, TOP_PAD = 12;
const FONT = '"Liberation Sans", Arial, sans-serif';

Chart.defaults.font.family = FONT;
Chart.defaults.color = '#333';

function makePanel(i) {
  const row = Math.floor(i / 4), col = i % 4;
  const isBottom = row === 4;
  const xh = isBottom ? 62 : 12;
  const cv = document.createElement('canvas');
  cv.width = LEFT_W + FRAME_W + RIGHT_W;
  cv.height = TOP_PAD + FRAME_H + xh;
  cv.style.left = (colLeft[col] - LEFT_W) + 'px';
  cv.style.top = (rowTop[row] - TOP_PAD) + 'px';
  document.body.appendChild(cv);

  const cut = cutoffs[i];
  const rLabels = rightTicks[i];

  const decor = {
    id: 'decor' + i,
    afterDatasetsDraw(chart) {
      const { ctx, chartArea: a, scales } = chart;
      ctx.save();
      ctx.strokeStyle = '#444';
      ctx.lineWidth = 1;
      ctx.beginPath();
      scales.x.ticks.forEach(t => {
        const p = scales.x.getPixelForValue(t.value);
        ctx.moveTo(p, a.bottom); ctx.lineTo(p, a.bottom - 5);
      });
      scales.y.ticks.forEach(t => {
        const p = scales.y.getPixelForValue(t.value);
        ctx.moveTo(a.left, p); ctx.lineTo(a.left + 5, p);
      });
      scales.y2.ticks.forEach(t => {
        const p = scales.y2.getPixelForValue(t.value);
        ctx.moveTo(a.right, p); ctx.lineTo(a.right - 5, p);
      });
      ctx.stroke();
      ctx.lineWidth = 1.5;
      ctx.strokeRect(a.left, a.top, a.right - a.left, a.bottom - a.top);

      ctx.fillStyle = '#444';
      ctx.textAlign = 'center';
      ctx.textBaseline = 'middle';
      ctx.font = '12px ' + FONT;
      ctx.fillText(String(cut), scales.x.getPixelForValue(cut) + 1, a.bottom - 9);

      ctx.fillStyle = '#333';
      ctx.font = '15px ' + FONT;
      const midY = (a.top + a.bottom) / 2;
      [[a.left - 53, freqTitles[i]], [a.right + 70, traitTitles[i]]].forEach(([x, txt]) => {
        ctx.save();
        ctx.translate(x, midY);
        ctx.rotate(-Math.PI / 2);
        ctx.fillText(txt, 0, 0);
        ctx.restore();
      });
      if (isBottom) ctx.fillText('Sample size', (a.left + a.right) / 2, a.bottom + 40);
      ctx.restore();
    }
  };

  new Chart(cv, {
    type: 'scatter',
    data: {
      datasets: [
        {
          type: 'scatter', order: 1,
          data: dotSizes.map((n, k) => ({ x: n, y: freqSeries[i][k] })),
          yAxisID: 'y', pointRadius: 1.25, pointBackgroundColor: '#262626', pointBorderWidth: 0
        },
        {
          type: 'line', order: 2,
          data: lineSizes.map((n, k) => ({ x: n, y: meanSeries[i][k] })),
          yAxisID: 'y2', borderColor: '#5c5c5c', borderWidth: 1, pointRadius: 0, tension: 0, fill: false
        },
        {
          type: 'line', order: 3,
          data: [{ x: -9.4, y: 1900 }, { x: 189.4, y: 1900 }],
          yAxisID: 'y', borderColor: '#555', borderWidth: 2, borderDash: [15, 9], pointRadius: 0, fill: false
        },
        {
          type: 'line', order: 4,
          data: [{ x: -5.8, y: 2013.5 }, { x: cut, y: 2013.5 }],
          yAxisID: 'y', borderWidth: 0, pointRadius: 0,
          backgroundColor: 'rgb(217,207,205)', fill: { value: 1786 }
        }
      ]
    },
    options: {
      responsive: false,
      animation: false,
      events: [],
      layout: { padding: { top: TOP_PAD, left: 0, right: 0, bottom: 0 } },
      plugins: { legend: { display: false }, tooltip: { enabled: false } },
      scales: {
        x: {
          type: 'linear', min: -9.4, max: 189.4,
          grid: { display: false, drawTicks: false }, border: { display: false },
          afterBuildTicks: s => { s.ticks = xTickLabels.map(v => ({ value: v })); },
          ticks: { display: isBottom, padding: 8, font: { size: 15.5 }, color: '#333', autoSkip: false, maxRotation: 0,
                   callback: v => String(v) },
          afterFit: s => { s.height = xh; s.paddingLeft = 0; s.paddingRight = 0; }
        },
        y: {
          position: 'left', min: 1780, max: 2021,
          grid: { display: false, drawTicks: false }, border: { display: false },
          afterBuildTicks: s => { s.ticks = freqTickLabels.map(v => ({ value: v })); },
          ticks: { padding: 5, font: { size: 15.5 }, color: '#333', autoSkip: false,
                   callback: v => String(v) },
          afterFit: s => { s.width = LEFT_W; s.paddingTop = 0; s.paddingBottom = 0; }
        },
        y2: {
          position: 'right', min: rightRange[i][0], max: rightRange[i][1],
          grid: { display: false, drawTicks: false }, border: { display: false },
          afterBuildTicks: s => { s.ticks = rLabels.map(v => ({ value: parseFloat(v) })); },
          ticks: { padding: 9, font: { size: 15.5 }, color: '#333', autoSkip: false,
                   callback: (v, k) => rLabels[k] },
          afterFit: s => { s.width = RIGHT_W; s.paddingTop = 0; s.paddingBottom = 0; }
        }
      }
    },
    plugins: [decor]
  });
}

for (let i = 0; i < 20; i++) makePanel(i);
</script>
</body>
</html>
